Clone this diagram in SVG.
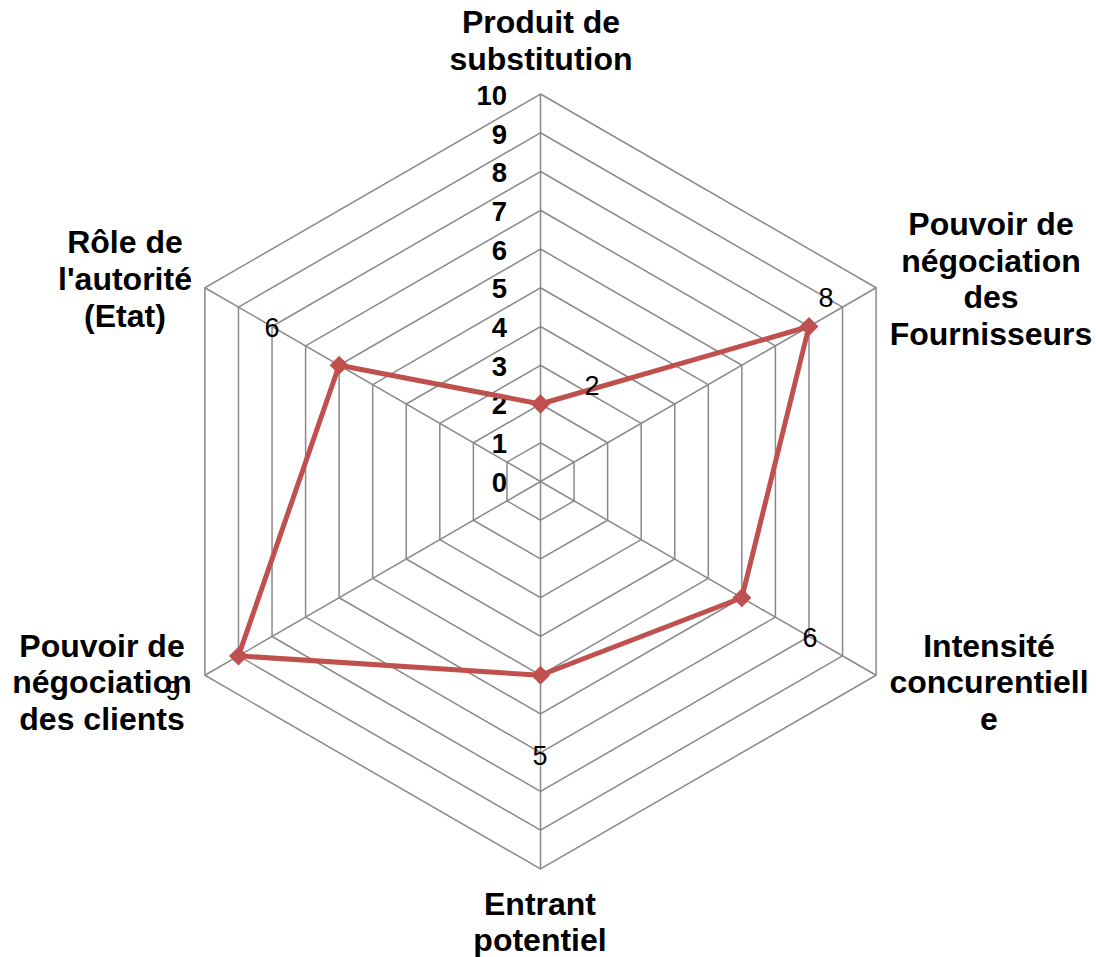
<svg xmlns="http://www.w3.org/2000/svg" width="1096" height="957" viewBox="0 0 1096 957">
  <style>
    .grid { fill: none; stroke: #898989; stroke-width: 1.5; }
    .spoke { stroke: #898989; stroke-width: 1.5; }
    .series { fill: none; stroke: #C0504D; stroke-width: 5; stroke-linejoin: round;
              marker-start: url(#dia); marker-mid: url(#dia); marker-end: url(#dia); }
    .axis { font-family: "Liberation Sans", Arial, sans-serif; font-weight: bold; font-size: 32px; fill: #000; text-anchor: middle; }
    .tick { font-family: "Liberation Sans", Arial, sans-serif; font-weight: bold; font-size: 27.5px; fill: #000; text-anchor: end; }
    .val { font-family: "Liberation Sans", Arial, sans-serif; font-size: 27px; fill: #000; text-anchor: middle; }
  </style>
  <defs>
    <marker id="dia" markerUnits="userSpaceOnUse" markerWidth="22" markerHeight="22" refX="11" refY="11" viewBox="0 0 22 22" overflow="visible">
      <path d="M11,1.5 L20.5,11 L11,20.5 L1.5,11 Z" fill="#C0504D"/>
    </marker>
  </defs>
  <rect width="1096" height="957" fill="#fff"/>

  <!-- radar grid: rings for levels 1..10, step 38.75 -->
  <g id="grid" transform="translate(540.5 481.5)">
    <polygon class="grid" points="0,-38.75 33.56,-19.38 33.56,19.38 0,38.75 -33.56,19.38 -33.56,-19.38"/>
    <polygon class="grid" points="0,-77.5 67.12,-38.75 67.12,38.75 0,77.5 -67.12,38.75 -67.12,-38.75"/>
    <polygon class="grid" points="0,-116.25 100.68,-58.13 100.68,58.13 0,116.25 -100.68,58.13 -100.68,-58.13"/>
    <polygon class="grid" points="0,-155 134.24,-77.5 134.24,77.5 0,155 -134.24,77.5 -134.24,-77.5"/>
    <polygon class="grid" points="0,-193.75 167.8,-96.88 167.8,96.88 0,193.75 -167.8,96.88 -167.8,-96.88"/>
    <polygon class="grid" points="0,-232.5 201.35,-116.25 201.35,116.25 0,232.5 -201.35,116.25 -201.35,-116.25"/>
    <polygon class="grid" points="0,-271.25 234.91,-135.63 234.91,135.63 0,271.25 -234.91,135.63 -234.91,-135.63"/>
    <polygon class="grid" points="0,-310 268.47,-155 268.47,155 0,310 -268.47,155 -268.47,-155"/>
    <polygon class="grid" points="0,-348.75 302.03,-174.38 302.03,174.38 0,348.75 -302.03,174.38 -302.03,-174.38"/>
    <polygon class="grid" points="0,-387.5 335.59,-193.75 335.59,193.75 0,387.5 -335.59,193.75 -335.59,-193.75"/>
    <line class="spoke" x1="0" y1="0" x2="0" y2="-387.5"/>
    <line class="spoke" x1="0" y1="0" x2="335.59" y2="-193.75"/>
    <line class="spoke" x1="0" y1="0" x2="335.59" y2="193.75"/>
    <line class="spoke" x1="0" y1="0" x2="0" y2="387.5"/>
    <line class="spoke" x1="0" y1="0" x2="-335.59" y2="193.75"/>
    <line class="spoke" x1="0" y1="0" x2="-335.59" y2="-193.75"/>
  </g>

  <!-- scale labels along the top spoke -->
  <g id="scale">
    <text class="tick" x="507" y="491.5">0</text>
    <text class="tick" x="507" y="452.5">1</text>
    <text class="tick" x="507" y="414">2</text>
    <text class="tick" x="507" y="375.5">3</text>
    <text class="tick" x="507" y="336.5">4</text>
    <text class="tick" x="507" y="298">5</text>
    <text class="tick" x="507" y="259.5">6</text>
    <text class="tick" x="507" y="220.5">7</text>
    <text class="tick" x="507" y="182">8</text>
    <text class="tick" x="507" y="143.5">9</text>
    <text class="tick" x="507" y="104.5">10</text>
  </g>

  <!-- data series -->
  <g id="connectors" transform="translate(540.5 481.5)">
    <polyline class="series" points="0,-77.5 268.47,-155 201.35,116.25 0,193.75 -302.03,174.38 -201.35,-116.25 0,-77.5"/>
  </g>

  <!-- value labels -->
  <g id="values">
    <text class="val" x="592" y="395">2</text>
    <text class="val" x="826" y="307">8</text>
    <text class="val" x="810" y="647">6</text>
    <text class="val" x="540" y="765">5</text>
    <text class="val" x="173" y="700">9</text>
    <text class="val" x="272" y="337">6</text>
  </g>

  <!-- axis titles -->
  <g id="node-substitution">
    <text class="axis" x="541" y="33">Produit de</text>
    <text class="axis" x="541" y="70">substitution</text>
  </g>
  <g id="node-fournisseurs">
    <text class="axis" x="991" y="235">Pouvoir de</text>
    <text class="axis" x="991" y="272">négociation</text>
    <text class="axis" x="991" y="308">des</text>
    <text class="axis" x="991" y="345">Fournisseurs</text>
  </g>
  <g id="node-intensite">
    <text class="axis" x="989" y="657">Intensité</text>
    <text class="axis" x="989" y="693">concurentiell</text>
    <text class="axis" x="989" y="730">e</text>
  </g>
  <g id="node-entrant">
    <text class="axis" x="540" y="915">Entrant</text>
    <text class="axis" x="540" y="951">potentiel</text>
  </g>
  <g id="node-clients">
    <text class="axis" x="102" y="657">Pouvoir de</text>
    <text class="axis" x="102" y="693">négociation</text>
    <text class="axis" x="102" y="730">des clients</text>
  </g>
  <g id="node-etat">
    <text class="axis" x="125" y="253">Rôle de</text>
    <text class="axis" x="125" y="290">l'autorité</text>
    <text class="axis" x="125" y="327">(Etat)</text>
  </g>
</svg>
